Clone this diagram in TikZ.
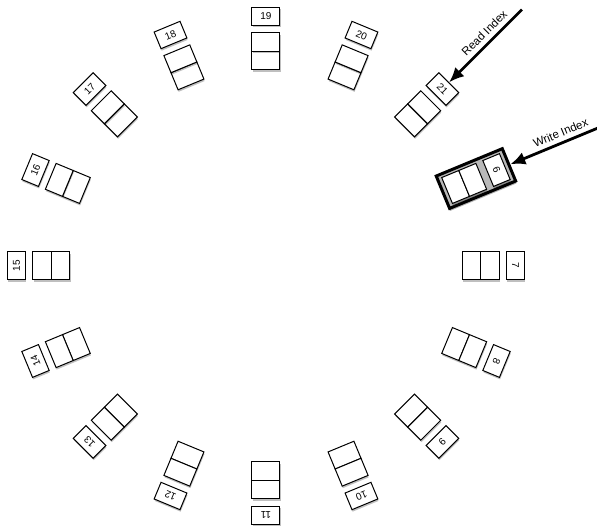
\documentclass[tikz,border=0pt]{standalone}
\usepackage{fontspec}
\setmainfont{Liberation Sans}
\usetikzlibrary{arrows.meta, shadows}

\tikzset{
  cell/.style={draw, fill=white, line width=1pt, minimum width=28pt,
    minimum height=18.5pt, inner sep=0pt,
    drop shadow={shadow xshift=0.6pt, shadow yshift=-2pt, opacity=0.25, fill=black}},
  idx/.style={cell, minimum height=18pt, font=\fontsize{10}{12}\selectfont},
  wframe/.style={draw, line width=3pt, fill=gray!55, minimum width=35pt,
    minimum height=71.5pt, inner sep=0pt,
    drop shadow={shadow xshift=0.6pt, shadow yshift=-2.5pt, opacity=0.3, fill=black}},
  pointer/.style={-{Latex[length=15pt,width=13pt]}, line width=2.8pt},
  ptrlabel/.style={font=\fontsize{11.5}{13}\selectfont, sloped, above=1pt}
}

\begin{document}
\begin{tikzpicture}[x=1pt, y=1pt]
  \useasboundingbox (-266,-265.5) rectangle (331,265.5);

  % frame round the slot that is written next
  \node[wframe, rotate=-67.5] (write) at (22.5:227.25) {};

  % the ring of slots
  \foreach \n [count=\i from 0] in {7,6,21,20,19,18,17,16,15,14,13,12,11,10,9,8} {
    \pgfmathsetmacro\a{22.5*\i}
    \node[cell, rotate=\a-90] (in-\n) at (\a:205.25) {};
    \node[cell, rotate=\a-90] (out-\n) at (\a:223.75) {};
    \node[idx, rotate=\a-90] (lbl-\n) at (\a:249.5) {\n};
  }

  % pointers
  \coordinate (rtail) at (45:362);
  \coordinate (wtail) at (22.5:362);
  \draw[pointer] (rtail) -- (lbl-21.north) node[ptrlabel, pos=0.42] {Read Index};
  \draw[pointer] (wtail) -- (write.north) node[ptrlabel, pos=0.4] {Write Index};
\end{tikzpicture}
\end{document}
